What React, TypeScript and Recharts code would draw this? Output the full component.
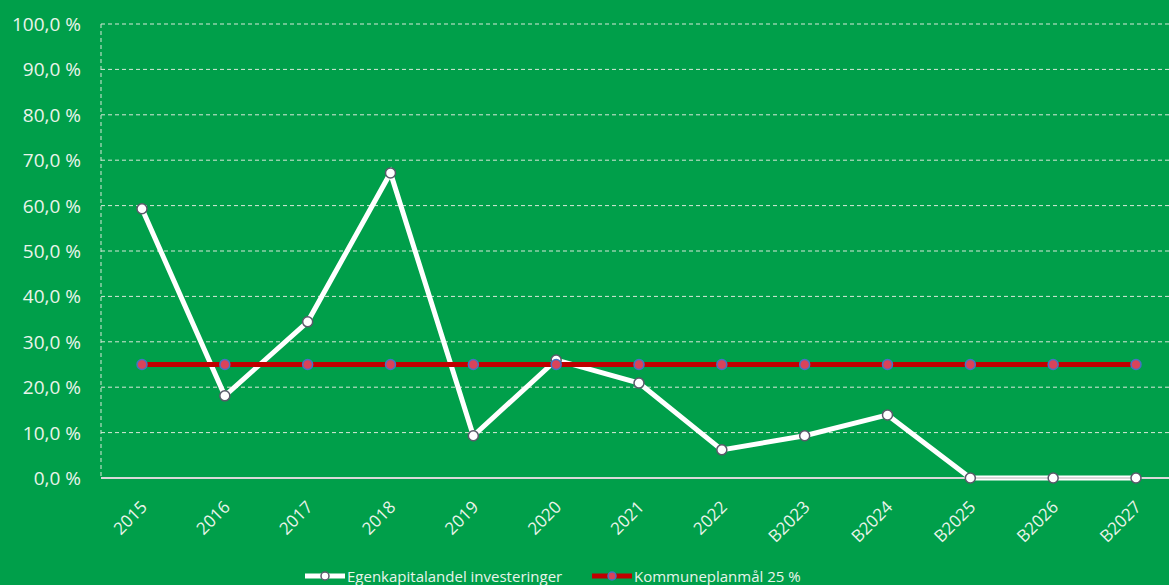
import React from 'react';
import { LineChart, Line, XAxis, YAxis, CartesianGrid, Legend } from 'recharts';

const categories = ['2015', '2016', '2017', '2018', '2019', '2020', '2021', '2022', 'B2023', 'B2024', 'B2025', 'B2026', 'B2027'];
const egenkapital = [59.3, 18.1, 34.4, 67.2, 9.3, 26.0, 20.9, 6.2, 9.3, 13.9, 0, 0, 0];
const maal = [25, 25, 25, 25, 25, 25, 25, 25, 25, 25, 25, 25, 25];
const yTicks = [0, 10, 20, 30, 40, 50, 60, 70, 80, 90, 100];

const data = categories.map((c, i) => ({ cat: c, egen: egenkapital[i], maal: maal[i] }));

const BG = '#009F4A';
const TXT = '#EAF4EA';
const FONT = '"Open Sans", sans-serif';

const fmt = (v: number) => `${v.toFixed(1).replace('.', ',')} %`;

const XTick = (props: any) => {
  const { x, y, payload } = props;
  return (
    <g transform={`translate(${x + 2},${y + 18})`}>
      <text textAnchor="end" transform="rotate(-45)" fill={TXT} fontSize={17} fontFamily={FONT} dy="0.35em">
        {payload.value}
      </text>
    </g>
  );
};

const YTick = (props: any) => {
  const { y, payload } = props;
  return (
    <text x={81} y={y} textAnchor="end" dominantBaseline="central" fill={TXT} fontSize={19} fontFamily={FONT}>
      {fmt(payload.value)}
    </text>
  );
};

const LegendContent = () => (
  <div style={{ height: 40, position: 'relative', fontFamily: FONT, fontSize: 15, color: TXT }}>
    <div style={{ position: 'absolute', left: 305, top: 6, display: 'flex', alignItems: 'center', whiteSpace: 'nowrap' }}>
      <svg width={42} height={14}>
        <line x1={0} y1={7} x2={40} y2={7} stroke="#ffffff" strokeWidth={5} />
        <circle cx={20} cy={7} r={4} fill="#ffffff" stroke="#5a5a6a" strokeWidth={1.5} />
      </svg>
      <span>Egenkapitalandel investeringer</span>
    </div>
    <div style={{ position: 'absolute', left: 592, top: 6, display: 'flex', alignItems: 'center', whiteSpace: 'nowrap' }}>
      <svg width={42} height={14}>
        <line x1={0} y1={7} x2={40} y2={7} stroke="#C00000" strokeWidth={5} />
        <circle cx={20} cy={7} r={4} fill="#D9435A" stroke="#4472C4" strokeWidth={1.5} />
      </svg>
      <span>Kommuneplanmål 25 %</span>
    </div>
  </div>
);

export default function App() {
  return (
    <div style={{ position: 'absolute', left: 0, top: 0, width: 1169, height: 585, overflow: 'hidden', background: BG }}>
      <LineChart width={1177} height={600} data={data} margin={{ top: 24, right: 0, left: 0, bottom: 0 }}>
        <CartesianGrid stroke="#D8E8D8" strokeDasharray="4 3" strokeWidth={1} vertical={false} />
        <XAxis
          dataKey="cat"
          height={82}
          tick={<XTick />}
          tickLine={false}
          axisLine={{ stroke: '#D9D9D9', strokeWidth: 2 }}
          interval={0}
          padding={{ left: 41, right: 41 }}
        />
        <YAxis
          domain={[0, 100]}
          ticks={yTicks}
          width={101}
          tick={<YTick />}
          tickLine={false}
          axisLine={{ stroke: '#D8E8D8', strokeDasharray: '4 3', strokeWidth: 1 }}
          interval={0}
        />
        <Legend verticalAlign="bottom" content={<LegendContent />} />
        <Line
          dataKey="egen"
          stroke="#ffffff"
          strokeWidth={5}
          dot={{ r: 5, fill: '#ffffff', stroke: '#5a5a6a', strokeWidth: 1.5 }}
          isAnimationActive={false}
        />
        <Line
          dataKey="maal"
          stroke="#C00000"
          strokeWidth={5}
          dot={{ r: 5, fill: '#D9435A', stroke: '#4472C4', strokeWidth: 1.5 }}
          isAnimationActive={false}
        />
      </LineChart>
    </div>
  );
}
